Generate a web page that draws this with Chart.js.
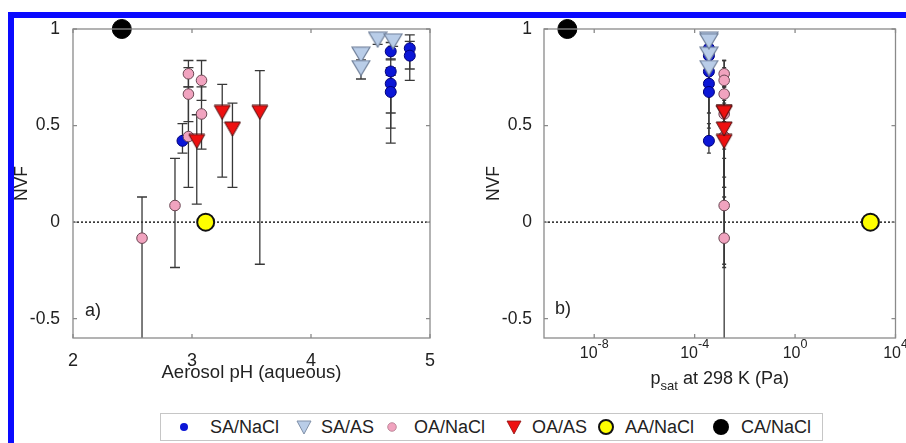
<!DOCTYPE html>
<html><head><meta charset="utf-8">
<script src="https://cdn.jsdelivr.net/npm/chart.js@4.4.0/dist/chart.umd.min.js"></script>
<style>
html,body{margin:0;padding:0;background:#fff;width:906px;height:443px;overflow:hidden;font-family:"Liberation Sans",Arial,sans-serif;}
#frame{position:absolute;left:8px;top:12px;width:910px;height:440px;border-left:6px solid #0a0aff;border-top:6px solid #0a0aff;box-sizing:border-box;}
#c1{position:absolute;left:0;top:0;}
#c2{position:absolute;left:453px;top:0;}
#legend{position:absolute;left:160px;top:413px;width:661px;height:26px;border:1px solid #c6c6c6;background:#fff;}
.li{position:absolute;top:0;height:26px;line-height:26px;font-size:18px;color:#222;white-space:nowrap;}
.mk{position:absolute;top:0;}
</style></head>
<body>
<canvas id="c1" width="453" height="400"></canvas>
<canvas id="c2" width="453" height="400"></canvas>
<div id="frame"></div>
<div id="legend"></div>
<script>
// ---------- data ----------
const yTicks = [-0.5, 0, 0.5, 1];
const phTicks = [2, 3, 4, 5];
const psatTicks = [1e-8, 1e-4, 1, 1e4];

// SA/NaCl
const saNaclPH  = [2.92, 4.67, 4.67, 4.67, 4.67, 4.83, 4.83];
const saNaclNVF = [0.421, 0.884, 0.78, 0.717, 0.674, 0.90, 0.862];
const saNaclLo  = [0.357, 0.84, 0.565, 0.487, 0.409, 0.793, 0.734];
const saNaclHi  = [0.51, 0.93, 0.845, 0.80, 0.76, 0.97, 0.936];
// SA/AS
const saAsPH  = [4.42, 4.42, 4.56, 4.69];
const saAsNVF = [0.867, 0.798, 0.945, 0.936];
const saAsLo  = [0.83, 0.741, 0.92, 0.91];
const saAsHi  = [0.90, 0.84, 0.97, 0.96];
// OA/NaCl
const oaNaclPH  = [2.58, 2.857, 2.97, 2.97, 2.97, 3.08, 3.08];
const oaNaclNVF = [-0.083, 0.086, 0.768, 0.663, 0.443, 0.734, 0.56];
const oaNaclLo  = [-0.65, -0.235, 0.70, 0.52, 0.18, 0.63, 0.378];
const oaNaclHi  = [0.13, 0.33, 0.837, 0.80, 0.70, 0.837, 0.70];
// OA/AS
const oaAsPH  = [3.04, 3.254, 3.34, 3.57];
const oaAsNVF = [0.418, 0.568, 0.482, 0.568];
const oaAsLo  = [0.093, 0.233, 0.18, -0.218];
const oaAsHi  = [0.556, 0.713, 0.616, 0.784];
// AA/NaCl
const aaNaclPH  = [3.115];
const aaNaclNVF = [0];
// CA/NaCl
const caNaclPH  = [2.41];
const caNaclNVF = [1];

// saturation vapour pressures (Pa) at 298 K
const saPsat = 3.7e-4;
const oaPsat = 1.5e-3;
const aaPsat = 1e3;
const caPsat = 8.5e-10;

// ---------- styles ----------
Chart.defaults.font.family = "'Liberation Sans', Arial, sans-serif";
Chart.defaults.color = '#222';

// downward triangle marker, centred on its bounding box
function triMarker(w, h, fill, stroke, lw){
  const c = document.createElement('canvas');
  c.width = w + 2; c.height = h + 2;
  const g = c.getContext('2d');
  g.beginPath(); g.moveTo(1, 1); g.lineTo(w + 1, 1); g.lineTo(w/2 + 1, h + 1); g.closePath();
  g.fillStyle = fill; g.fill();
  g.lineWidth = lw; g.strokeStyle = stroke; g.lineJoin = 'miter'; g.stroke();
  return c;
}
const triSA = triMarker(18, 15, '#b9cde8', '#6f7f99', 1.2);
const triOA = triMarker(16, 14, '#ee1010', '#4a1010', 1);

const seriesDefs = [
  {label:'SA/NaCl', xs:saNaclPH, ys:saNaclNVF, lo:saNaclLo, hi:saNaclHi, psat:saPsat,
   style:{pointStyle:'circle', pointRadius:5.5, pointBackgroundColor:'#0b16d6', pointBorderColor:'#00007a', pointBorderWidth:1}},
  {label:'SA/AS', xs:saAsPH, ys:saAsNVF, lo:saAsLo, hi:saAsHi, psat:saPsat,
   style:{pointStyle:triSA, pointRadius:9}},
  {label:'OA/NaCl', xs:oaNaclPH, ys:oaNaclNVF, lo:oaNaclLo, hi:oaNaclHi, psat:oaPsat,
   style:{pointStyle:'circle', pointRadius:5.3, pointBackgroundColor:'#f1a3bf', pointBorderColor:'#6a4652', pointBorderWidth:1}},
  {label:'OA/AS', xs:oaAsPH, ys:oaAsNVF, lo:oaAsLo, hi:oaAsHi, psat:oaPsat,
   style:{pointStyle:triOA, pointRadius:8}},
  {label:'AA/NaCl', xs:aaNaclPH, ys:aaNaclNVF, lo:null, hi:null, psat:aaPsat,
   style:{pointStyle:'circle', pointRadius:8.5, pointBackgroundColor:'#ffff00', pointBorderColor:'#111', pointBorderWidth:2}},
  {label:'CA/NaCl', xs:caNaclPH, ys:caNaclNVF, lo:null, hi:null, psat:caPsat,
   style:{pointStyle:'circle', pointRadius:9.5, pointBackgroundColor:'#000', pointBorderColor:'#000', pointBorderWidth:1}}
];

function buildDatasets(usePsat){
  return seriesDefs.map((s, k) => Object.assign({
    label: s.label,
    data: s.ys.map((v,i) => ({x: usePsat ? s.psat : s.xs[i], y: v})),
    errLo: s.lo, errHi: s.hi,
    order: seriesDefs.length - k,   // later series drawn on top
    clip: false
  }, s.style));
}

const panelPlugin = {
  id: 'panel',
  beforeDatasetsDraw(chart, args, opts){
    const {ctx, chartArea:a} = chart;
    const x = chart.scales.x, y = chart.scales.y;
    ctx.save();
    ctx.beginPath(); ctx.rect(a.left, a.top, a.right-a.left, a.bottom-a.top); ctx.clip();
    // zero line
    const y0 = y.getPixelForValue(0);
    ctx.strokeStyle = '#111'; ctx.lineWidth = 1.4; ctx.setLineDash([2,2]);
    ctx.beginPath(); ctx.moveTo(a.left, y0); ctx.lineTo(a.right, y0); ctx.stroke();
    ctx.setLineDash([]);
    // error bars
    ctx.strokeStyle = '#383838'; ctx.lineWidth = 1.3;
    const cw = opts.capW;
    chart.data.datasets.forEach(ds => {
      if (!ds.errLo) return;
      ds.data.forEach((p,i) => {
        const px = x.getPixelForValue(p.x);
        const yl = y.getPixelForValue(ds.errLo[i]);
        const yh = y.getPixelForValue(ds.errHi[i]);
        ctx.beginPath();
        ctx.moveTo(px, yl); ctx.lineTo(px, yh);
        ctx.moveTo(px-cw, yl); ctx.lineTo(px+cw, yl);
        ctx.moveTo(px-cw, yh); ctx.lineTo(px+cw, yh);
        ctx.stroke();
      });
    });
    ctx.restore();
  },
  afterDraw(chart, args, opts){
    const {ctx, chartArea:a} = chart;
    const x = chart.scales.x, y = chart.scales.y;
    ctx.save();
    // box
    ctx.strokeStyle = '#8a8a8a'; ctx.lineWidth = 1.3;
    ctx.strokeRect(a.left, a.top, a.right-a.left, a.bottom-a.top);
    // inward ticks
    ctx.beginPath();
    x.ticks.forEach(t => {
      const px = x.getPixelForValue(t.value);
      ctx.moveTo(px, a.bottom); ctx.lineTo(px, a.bottom-4);
      ctx.moveTo(px, a.top); ctx.lineTo(px, a.top+4);
    });
    y.ticks.forEach(t => {
      const py = y.getPixelForValue(t.value);
      ctx.moveTo(a.left, py); ctx.lineTo(a.left+4, py);
      ctx.moveTo(a.right, py); ctx.lineTo(a.right-4, py);
    });
    ctx.stroke();
    // panel label
    ctx.fillStyle = '#222';
    ctx.font = "18px 'Liberation Sans', Arial, sans-serif";
    ctx.textBaseline = 'middle'; ctx.textAlign = 'left';
    ctx.fillText(opts.label, a.left + opts.labelDX, a.bottom - opts.labelDY);
    // log tick labels with superscripts
    if (opts.logLabels){
      const fBig = "16px 'Liberation Sans', Arial, sans-serif";
      const fExp = "12.5px 'Liberation Sans', Arial, sans-serif";
      x.ticks.forEach(t => {
        const px = x.getPixelForValue(t.value);
        const e = String(Math.round(Math.log10(t.value)));
        ctx.textBaseline = 'alphabetic'; ctx.textAlign = 'left';
        ctx.font = fBig; const w1 = ctx.measureText('10').width;
        ctx.font = fExp; const w2 = ctx.measureText(e).width;
        const sx = px - (w1+w2)/2;
        ctx.font = fBig; ctx.fillText('10', sx, a.bottom + 20);
        ctx.font = fExp; ctx.fillText(e, sx + w1, a.bottom + 10);
      });
      // axis title with subscript
      const big = "18px 'Liberation Sans', Arial, sans-serif";
      const small = "13px 'Liberation Sans', Arial, sans-serif";
      ctx.font = big; const wp = ctx.measureText('p').width; const wr = ctx.measureText(' at 298 K (Pa)').width;
      ctx.font = small; const ws = ctx.measureText('sat').width;
      const cx = (a.left + a.right)/2;
      let sx = cx - (wp+ws+wr)/2;
      const base = 384;
      ctx.textBaseline = 'alphabetic';
      ctx.font = big; ctx.fillText('p', sx, base); sx += wp;
      ctx.font = small; ctx.fillText('sat', sx, base + 6); sx += ws;
      ctx.font = big; ctx.fillText(' at 298 K (Pa)', sx, base);
    }
    ctx.restore();
  }
};

function yScale(titlePad, width, tickPad){
  return {
    type:'linear', min:-0.6, max:1,
    afterBuildTicks: s => { s.ticks = yTicks.map(v => ({value:v})); },
    afterFit: s => { s.width = width; },
    grid:{display:false}, border:{display:false},
    ticks:{font:{size:17.5}, padding:tickPad, color:'#222', callback: v => String(v)},
    title:{display:true, text:'NVF', font:{size:17.5}, color:'#222', padding:{top:titlePad, bottom:0}}
  };
}

new Chart(document.getElementById('c1'), {
  type:'scatter',
  data:{datasets: buildDatasets(false)},
  options:{
    responsive:false, animation:false, events:[],
    layout:{padding:{top:29, right:23, bottom:0, left:0}},
    plugins:{legend:{display:false}, tooltip:{enabled:false},
      panel:{label:'a)', labelDX:12, labelDY:27, capW:5, logLabels:false}},
    scales:{
      x:{type:'linear', min:2, max:5,
         afterBuildTicks: s => { s.ticks = phTicks.map(v => ({value:v})); },
         afterFit: s => { s.height = 62; },
         grid:{display:false}, border:{display:false},
         ticks:{font:{size:18}, padding:4, color:'#222', callback: v => String(v)},
         title:{display:true, text:'Aerosol pH (aqueous)', font:{size:18.5}, color:'#222', padding:{top:0, bottom:16}}},
      y: yScale(12, 73, 5)
    }
  },
  plugins:[panelPlugin]
});

new Chart(document.getElementById('c2'), {
  type:'scatter',
  data:{datasets: buildDatasets(true)},
  options:{
    responsive:false, animation:false, events:[],
    layout:{padding:{top:29, right:6, bottom:0, left:0}},
    plugins:{legend:{display:false}, tooltip:{enabled:false},
      panel:{label:'b)', labelDX:11, labelDY:29, capW:2, logLabels:true}},
    scales:{
      x:{type:'logarithmic', min:1e-10, max:1e4,
         afterBuildTicks: s => { s.ticks = psatTicks.map(v => ({value:v})); },
         afterFit: s => { s.height = 62; },
         grid:{display:false}, border:{display:false},
         ticks:{display:false},
         title:{display:false}},
      y: yScale(31, 91, 4)
    }
  },
  plugins:[panelPlugin]
});

// ---------- legend ----------
const legendItems = [
  {label:'SA/NaCl', mx:23, tx:49, svg:'<svg width="12" height="26"><circle cx="6" cy="13" r="4" fill="#0b16d6"/></svg>', w:12},
  {label:'SA/AS', mx:143, tx:160, svg:'<svg width="16" height="26"><polygon points="1,7 15,7 8,20" fill="#b9cde8" stroke="#8090a8" stroke-width="1"/></svg>', w:16},
  {label:'OA/NaCl', mx:231, tx:253, svg:'<svg width="12" height="26"><circle cx="6" cy="13" r="4.3" fill="#f1a3bf" stroke="#b07a8c" stroke-width="0.8"/></svg>', w:12},
  {label:'OA/AS', mx:353, tx:371, svg:'<svg width="16" height="26"><polygon points="1,7 15,7 8,20" fill="#ee1010" stroke="#8a1010" stroke-width="0.8"/></svg>', w:16},
  {label:'AA/NaCl', mx:445, tx:464, svg:'<svg width="18" height="26"><circle cx="9" cy="13" r="7" fill="#ffff00" stroke="#111" stroke-width="2"/></svg>', w:18},
  {label:'CA/NaCl', mx:560, tx:580, svg:'<svg width="18" height="26"><circle cx="9" cy="13" r="8" fill="#000"/></svg>', w:18}
];
const lg = document.getElementById('legend');
legendItems.forEach(it => {
  const m = document.createElement('div'); m.className='mk'; m.style.left = (it.mx - it.w/2) + 'px'; m.innerHTML = it.svg; lg.appendChild(m);
  const t = document.createElement('div'); t.className='li'; t.style.left = it.tx + 'px'; t.textContent = it.label; lg.appendChild(t);
});
</script>
</body></html>
